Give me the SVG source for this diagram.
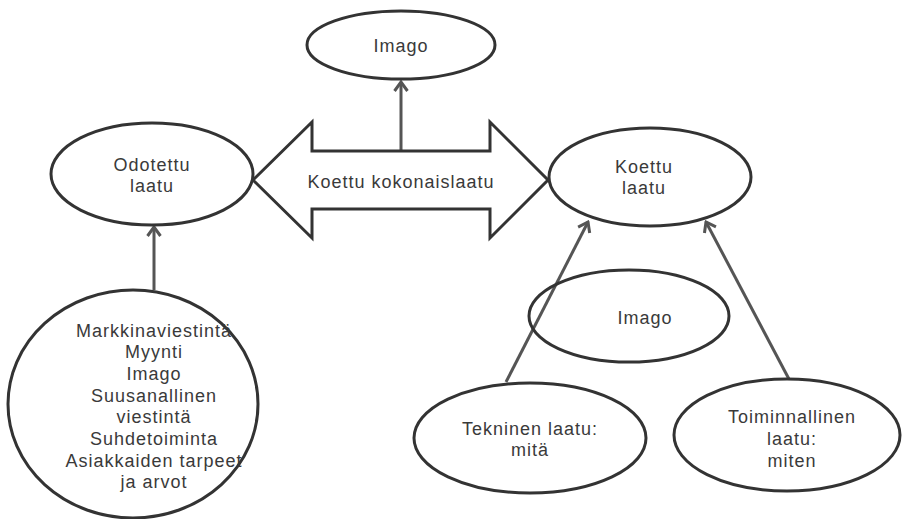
<svg xmlns="http://www.w3.org/2000/svg" width="902" height="519" viewBox="0 0 902 519">
<style>
.node ellipse{fill:#fff;stroke:#333;stroke-width:3}
.big{fill:#fff;stroke:#333;stroke-width:3;stroke-linejoin:miter}
text{font-family:"Liberation Sans",Arial,sans-serif;font-size:18px;letter-spacing:1px;fill:#3a3a3a;text-anchor:middle}
.conn line{stroke:#555;stroke-width:3;marker-end:url(#ah)}
</style>
<defs>
<marker id="ah" markerUnits="userSpaceOnUse" viewBox="-12 -8 14 16" refX="0" refY="0" markerWidth="14" markerHeight="16" orient="auto">
<path d="M-9,-6.5 L0,0 L-9,6.5" fill="none" stroke="#555" stroke-width="3"/>
</marker>
</defs>
<rect width="902" height="519" fill="#fff"/>
<g id="connectors" class="conn">
<line x1="401" y1="152" x2="401" y2="82"/>
<line x1="154" y1="290" x2="154" y2="227"/>
<line x1="506" y1="382" x2="588" y2="222"/>
<line x1="790" y1="381" x2="706" y2="222"/>
</g>
<g id="imago-top" class="node">
<ellipse cx="401" cy="45" rx="94" ry="34"/>
<text x="401" y="52">Imago</text>
</g>
<g id="kokonaislaatu">
<polygon class="big" points="253,180 312,122 312,151 490,151 490,122 548,180 490,238 490,209 312,209 312,238"/>
<text x="401" y="188">Koettu kokonaislaatu</text>
</g>
<g id="odotettu" class="node">
<ellipse cx="152" cy="174" rx="101" ry="51"/>
<text x="152" y="171">Odotettu</text>
<text x="152" y="192">laatu</text>
</g>
<g id="tekijat" class="node">
<ellipse cx="133" cy="404" rx="125" ry="114"/>
<text x="154" y="337">Markkinaviestintä</text>
<text x="154" y="358">Myynti</text>
<text x="154" y="380">Imago</text>
<text x="154" y="402">Suusanallinen</text>
<text x="154" y="423">viestintä</text>
<text x="154" y="445">Suhdetoiminta</text>
<text x="154" y="467">Asiakkaiden tarpeet</text>
<text x="154" y="488">ja arvot</text>
</g>
<g id="koettu" class="node">
<ellipse cx="650" cy="177" rx="101" ry="49"/>
<text x="644" y="173">Koettu</text>
<text x="644" y="194">laatu</text>
</g>
<g id="imago-mid" class="node">
<ellipse cx="629" cy="316" rx="100" ry="46" style="fill:none"/>
<text x="645" y="324">Imago</text>
</g>
<g id="tekninen" class="node">
<ellipse cx="530" cy="438" rx="116" ry="55"/>
<text x="530" y="435">Tekninen laatu:</text>
<text x="530" y="456">mitä</text>
</g>
<g id="toiminnallinen" class="node">
<ellipse cx="787" cy="435" rx="113" ry="56"/>
<text x="792" y="423">Toiminnallinen</text>
<text x="792" y="445">laatu:</text>
<text x="792" y="467">miten</text>
</g>
</svg>
